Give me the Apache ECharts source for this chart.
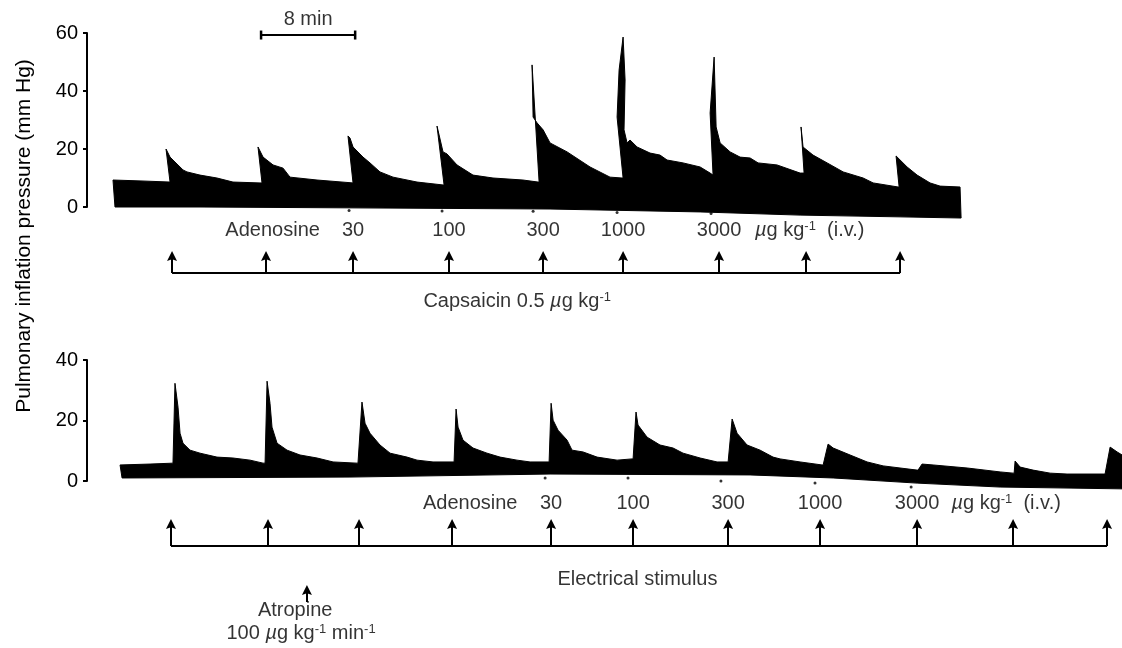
<!DOCTYPE html>
<html>
<head>
<meta charset="utf-8">
<script src="https://cdn.jsdelivr.net/npm/echarts@6/dist/echarts.min.js"></script>
<style>
  html, body { margin: 0; padding: 0; background: #fff; }
  #chart { width: 1122px; height: 648px; }
</style>
</head>
<body>
<div id="chart"></div>
<script>
// time in minutes from the y axis, pressure in mm Hg
const topUpper = [
  [2.21, 9.3], [4.51, 9.0], [7.06, 8.6], [6.72, 20.0], [7.06, 17.2], [8.16, 12.8], [8.50, 12.1],
  [9.61, 11.0], [11.05, 10.0], [12.41, 8.6], [14.71, 8.3], [14.88, 8.3],
  [14.54, 20.7], [14.97, 17.2], [15.82, 14.5], [16.67, 13.4], [17.26, 10.3], [19.56, 9.3], [22.62, 8.3],
  [22.19, 24.5], [22.36, 23.8], [22.62, 20.7], [23.47, 17.2], [24.06, 15.2], [24.91, 12.1],
  [26.02, 10.3], [28.06, 8.6], [30.27, 7.6], [30.36, 7.6],
  [29.76, 27.9], [30.27, 19.0], [30.61, 18.3], [31.46, 14.5], [32.82, 11.0], [34.52, 10.0],
  [37.07, 9.3], [38.35, 8.6], [38.44, 8.6],
  [37.84, 49.0], [37.93, 31.0], [38.27, 29.0], [38.78, 26.6], [39.37, 22.1], [40.82, 19.0],
  [42.77, 13.8], [44.47, 10.3], [45.49, 10.0], [45.58, 10.0],
  [45.07, 31.0], [45.24, 47.2], [45.58, 58.6], [45.75, 43.8], [45.66, 26.6], [45.92, 22.1],
  [46.17, 23.1], [46.77, 20.7], [47.87, 18.6], [48.72, 17.9], [49.32, 16.2], [50.68, 15.2],
  [52.13, 13.8], [52.98, 11.7], [53.23, 11.0],
  [52.98, 32.4], [53.32, 51.7], [53.49, 27.6], [53.83, 22.1], [54.68, 19.0], [55.53, 17.2],
  [56.38, 16.9], [57.06, 15.2], [58.67, 14.5], [60.63, 11.7], [60.88, 11.7], [60.97, 11.7],
  [60.71, 27.6], [60.88, 20.7], [61.73, 17.9], [62.93, 15.2], [64.29, 12.1], [65.99, 10.0],
  [66.84, 8.3], [68.96, 6.9], [69.05, 6.9],
  [68.79, 17.6], [69.73, 13.8], [70.58, 11.0], [71.68, 8.3], [72.53, 7.2], [74.23, 6.9]
];
const topLower = [
  [2.38, 0], [9.61, 0], [22.36, -0.3], [39.37, -0.7], [52.13, -1.7], [60.63, -2.8], [69.13, -3.4], [74.32, -3.8]
];

const bottomUpper = [
  [2.81, 5.3], [5.36, 5.6], [7.31, 5.9],
  [7.48, 32.3], [7.74, 24.4], [7.91, 15.8], [8.16, 12.5], [8.76, 10.2], [9.61, 9.2], [11.05, 7.9],
  [12.41, 7.6], [13.86, 6.9], [14.97, 5.9], [15.14, 5.9],
  [15.31, 33.0], [15.56, 25.7], [15.73, 17.8], [16.16, 12.5], [17.01, 10.2], [18.11, 8.6],
  [19.56, 7.6], [20.92, 6.3], [22.96, 5.9], [23.04, 5.9],
  [23.38, 26.1], [23.64, 19.1], [24.06, 15.8], [24.91, 11.9], [25.77, 9.2], [27.21, 7.9],
  [28.06, 6.9], [29.42, 6.3], [31.12, 6.3], [31.21, 6.3],
  [31.38, 23.8], [31.55, 17.8], [31.97, 13.5], [32.82, 10.9], [34.01, 9.2], [35.12, 7.9],
  [36.56, 6.9], [37.67, 6.3], [39.20, 6.3], [39.29, 6.3],
  [39.46, 25.7], [39.63, 20.1], [40.05, 16.8], [40.82, 13.5], [41.24, 10.2], [42.18, 9.6],
  [43.37, 7.9], [45.07, 6.9], [46.34, 7.3], [46.43, 7.3],
  [46.68, 22.8], [46.85, 18.5], [47.62, 14.5], [48.72, 11.9], [49.83, 10.9], [50.68, 9.2],
  [52.13, 7.6], [53.57, 6.3], [54.42, 6.3], [54.51, 6.3],
  [54.85, 20.5], [55.27, 15.8], [56.12, 11.9], [57.23, 10.2], [58.33, 7.9], [58.93, 7.3],
  [60.63, 6.3], [62.50, 5.3], [62.59, 5.3],
  [63.01, 12.2], [63.44, 10.9], [64.88, 8.6], [66.33, 6.3], [67.69, 5.0], [70.58, 3.6], [70.66, 3.6],
  [71.00, 5.6], [71.94, 5.3], [74.83, 4.3], [77.64, 3.0], [78.74, 2.6], [78.83, 2.6],
  [78.91, 6.6], [79.34, 4.6], [80.44, 3.6], [81.89, 2.6], [83.33, 2.3], [86.39, 2.3], [86.56, 2.3],
  [86.99, 11.2], [87.59, 9.6], [88.01, 8.6]
];
const bottomLower = [
  [2.98, 1.0], [22.36, 1.3], [39.37, 2.3], [56.38, 2.0], [63.44, 1.0], [70.58, -0.7], [77.64, -2.0], [88.01, -2.6]
];

const topArrowTimes = [7.23, 15.22, 22.62, 30.78, 38.78, 45.58, 53.74, 61.14, 69.13];
const topDoseLabels = ['30', '100', '300', '1000', '3000'];      // arrows 3..7
const bottomArrowTimes = [7.14, 15.39, 23.13, 31.04, 39.46, 46.43, 54.51, 62.33, 70.58, 78.74, 86.73];
const bottomDoseLabels = ['30', '100', '300', '1000', '3000'];   // arrows 5..9
const topDoseDots = [[22.28, -1.2], [30.19, -1.4], [37.93, -1.5], [45.07, -1.9], [53.06, -2.2]];
const bottomDoseDots = [[38.95, 1.0], [46.0, 1.0], [53.9, 0], [61.9, -0.7], [70.07, -2.0]];
const atropineTime = 18.7;
const scaleBarStart = 14.8;
const scaleBarMinutes = 8;
const topTicks = [0, 20, 40, 60];
const bottomTicks = [0, 20, 40];

const FONT = 'Liberation Sans, Arial, sans-serif';
const rich = {
  n: { fontSize: 20, fontFamily: FONT, color: '#000' },
  mu: { fontSize: 20, fontFamily: FONT, fontStyle: 'italic', color: '#000' },
  s: { fontSize: 13, fontFamily: FONT, color: '#000', verticalAlign: 'top' }
};
const unitText = '{mu|µ}{n|g kg}{s|-1}{n|  (i.v.)}';
const arrowHead = 'path://M5,0L10,18L5,15L0,18Z';

const chart = echarts.init(document.getElementById('chart'));

function trace(upper, lower) {
  const outline = upper.concat(lower.slice().reverse());
  return function (params, api) {
    return {
      type: 'polygon',
      shape: { points: outline.map(p => api.coord(p)) },
      style: { fill: '#000', stroke: '#000', lineWidth: 1 }
    };
  };
}

function textSeries(grid, items) {
  return {
    type: 'scatter', xAxisIndex: grid, yAxisIndex: grid, symbolSize: 0, silent: true, clip: false,
    data: items.map(d => ({
      value: d.value,
      label: {
        show: true, position: [0, 0], align: d.align || 'center', verticalAlign: 'middle',
        color: '#000', formatter: d.text, rich: rich
      }
    }))
  };
}

function arrows(grid, times, y0, y1) {
  return {
    type: 'lines', coordinateSystem: 'cartesian2d', xAxisIndex: grid, yAxisIndex: grid,
    symbol: ['none', arrowHead], symbolSize: 10, silent: true,
    lineStyle: { color: '#000', width: 2, opacity: 1 },
    data: times.map(t => ({ coords: [[t, y0], [t, y1]] }))
  };
}

function baseLine(grid, times, y) {
  return {
    type: 'lines', coordinateSystem: 'cartesian2d', xAxisIndex: grid, yAxisIndex: grid,
    symbol: 'none', silent: true,
    lineStyle: { color: '#000', width: 2, opacity: 1 },
    data: [{ coords: [[times[0], y], [times[times.length - 1], y]] }]
  };
}

const xAxisBase = { type: 'value', min: 0, max: 88, show: false };
const yAxisShown = (max, ticks) => ({
  type: 'value', min: 0, max: max, interval: ticks[1] - ticks[0],
  axisLine: { show: true, lineStyle: { color: '#000', width: 2 } },
  axisTick: { show: true, length: 4, lineStyle: { color: '#000', width: 2 } },
  axisLabel: { color: '#000', fontSize: 20, fontFamily: FONT, margin: 9 },
  splitLine: { show: false }
});

const option = {
  animation: false,
  backgroundColor: '#fff',
  grid: [
    { left: 87, top: 33, width: 1035, height: 174 },
    { left: 87, top: 360, width: 1035, height: 121 },
    { left: 87, top: 200, width: 1035, height: 120 },
    { left: 87, top: 480, width: 1035, height: 168 }
  ],
  xAxis: [0, 1, 2, 3].map(i => Object.assign({ gridIndex: i }, xAxisBase)),
  yAxis: [
    Object.assign({ gridIndex: 0 }, yAxisShown(60, topTicks)),
    Object.assign({ gridIndex: 1 }, yAxisShown(40, bottomTicks)),
    { gridIndex: 2, type: 'value', min: 0, max: 120, show: false },
    { gridIndex: 3, type: 'value', min: 0, max: 168, show: false }
  ],
  graphic: [{
    type: 'text', x: 24, y: 236, rotation: Math.PI / 2,
    style: {
      text: 'Pulmonary inflation pressure (mm Hg)', fontSize: 21, fontFamily: FONT,
      fill: '#000', textAlign: 'center', textVerticalAlign: 'middle'
    }
  }],
  series: [
    { type: 'custom', xAxisIndex: 0, yAxisIndex: 0, clip: false, silent: true,
      renderItem: trace(topUpper, topLower), data: [[0, 0]] },
    { type: 'custom', xAxisIndex: 1, yAxisIndex: 1, clip: false, silent: true,
      renderItem: trace(bottomUpper, bottomLower), data: [[0, 0]] },
    { type: 'scatter', xAxisIndex: 0, yAxisIndex: 0, symbolSize: 3, clip: false, silent: true,
      itemStyle: { color: '#000' }, data: topDoseDots },
    { type: 'scatter', xAxisIndex: 1, yAxisIndex: 1, symbolSize: 3, clip: false, silent: true,
      itemStyle: { color: '#000' }, data: bottomDoseDots },
    // 8 min scale bar
    { type: 'line', xAxisIndex: 0, yAxisIndex: 0, clip: false, silent: true,
      symbol: 'rect', symbolSize: [2.5, 9], showAllSymbol: true,
      lineStyle: { color: '#000', width: 2 }, itemStyle: { color: '#000' },
      data: [[scaleBarStart, 59.3], [scaleBarStart + scaleBarMinutes, 59.3]] },
    textSeries(0, [{ value: [scaleBarStart + scaleBarMinutes / 2, 64.5], text: '{n|8 min}' }]),

    // upper annotations
    baseLine(2, topArrowTimes, 47),
    arrows(2, topArrowTimes, 47, 64),
    textSeries(2, [{ value: [19.8, 90], text: '{n|Adenosine}', align: 'right' }]
      .concat(topDoseLabels.map((d, i) => ({ value: [topArrowTimes[i + 2], 90], text: '{n|' + d + '}' })))
      .concat([{ value: [56.8, 90], text: unitText, align: 'left' },
               { value: [28.6, 19], text: '{n|Capsaicin 0.5 }{mu|µ}{n|g kg}{s|-1}', align: 'left' }])),

    // lower annotations
    baseLine(3, bottomArrowTimes, 102),
    arrows(3, bottomArrowTimes, 102, 124),
    arrows(3, [atropineTime], 46, 58),
    textSeries(3, [{ value: [36.6, 145], text: '{n|Adenosine}', align: 'right' }]
      .concat(bottomDoseLabels.map((d, i) => ({ value: [bottomArrowTimes[i + 4], 145], text: '{n|' + d + '}' })))
      .concat([{ value: [73.5, 145], text: unitText, align: 'left' },
               { value: [40.0, 69], text: '{n|Electrical stimulus}', align: 'left' },
               { value: [17.7, 38], text: '{n|Atropine}' },
               { value: [18.2, 15], text: '{n|100 }{mu|µ}{n|g kg}{s|-1}{n| min}{s|-1}' }]))
  ]
};

chart.setOption(option);
window.addEventListener('resize', chart.resize);
</script>
</body>
</html>
